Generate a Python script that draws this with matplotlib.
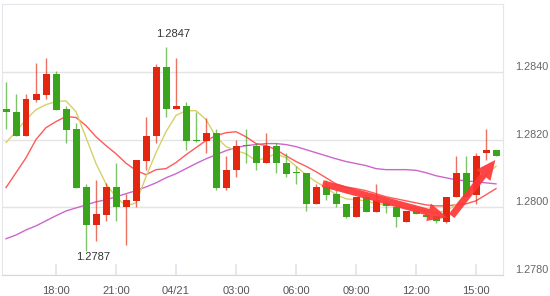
import matplotlib
matplotlib.use("Agg")
import matplotlib.pyplot as plt
import numpy as np
import pandas as pd
from matplotlib.patches import FancyArrowPatch

# 30-minute candles, 04/20 15:30 -> 04/21 16:00
times = pd.date_range("2018-04-20 15:30", periods=50, freq="30min")

opens = [1.28291, 1.28282, 1.28209, 1.28318, 1.28330, 1.28392, 1.28291, 1.28232, 1.28060, 1.27948,
         1.27978, 1.28060, 1.28001, 1.28019, 1.28137, 1.28209, 1.28413, 1.28291, 1.28300, 1.28197,
         1.28197, 1.28220, 1.28058, 1.28109, 1.28182, 1.28182, 1.28130, 1.28182, 1.28130, 1.28102,
         1.28102, 1.28010, 1.28060, 1.28040, 1.28010, 1.27972, 1.28031, 1.27986, 1.28013, 1.28001,
         1.27957, 1.27989, 1.27978, 1.27975, 1.27957, 1.28031, 1.28102, 1.28037, 1.28161, 1.28170]
closes = [1.28280, 1.28209, 1.28321, 1.28333, 1.28392, 1.28288, 1.28229, 1.28058, 1.27948, 1.27981,
          1.28060, 1.28001, 1.28022, 1.28140, 1.28211, 1.28413, 1.28291, 1.28300, 1.28197, 1.28195,
          1.28220, 1.28058, 1.28111, 1.28182, 1.28180, 1.28130, 1.28182, 1.28130, 1.28099, 1.28100,
          1.28010, 1.28060, 1.28037, 1.28010, 1.27972, 1.28031, 1.27986, 1.28022, 1.28004, 1.27972,
          1.27989, 1.27981, 1.27972, 1.27960, 1.28031, 1.28102, 1.28031, 1.28152, 1.28169, 1.28151]
highs = [1.28371, 1.28333, 1.28333, 1.28425, 1.28442, 1.28401, 1.28300, 1.28250, 1.28069, 1.28081,
         1.28072, 1.28132, 1.28040, 1.28140, 1.28265, 1.28422, 1.28472, 1.28442, 1.28312, 1.28280,
         1.28262, 1.28232, 1.28152, 1.28200, 1.28232, 1.28191, 1.28220, 1.28191, 1.28161, 1.28121,
         1.28102, 1.28069, 1.28081, 1.28052, 1.28010, 1.28031, 1.28040, 1.28069, 1.28022, 1.28001,
         1.27989, 1.27989, 1.27984, 1.27975, 1.28031, 1.28152, 1.28152, 1.28161, 1.28232, 1.28170]
lows = [1.28232, 1.28209, 1.28209, 1.28312, 1.28321, 1.28288, 1.28191, 1.28058, 1.27871, 1.27901,
        1.27960, 1.27960, 1.27889, 1.28001, 1.28111, 1.28191, 1.28265, 1.28291, 1.28170, 1.28194,
        1.28161, 1.28052, 1.28052, 1.28090, 1.28130, 1.28111, 1.28130, 1.28102, 1.28090, 1.28069,
        1.27989, 1.28010, 1.28022, 1.28001, 1.27969, 1.27972, 1.27986, 1.27986, 1.27984, 1.27942,
        1.27957, 1.27981, 1.27972, 1.27954, 1.27954, 1.28031, 1.28031, 1.28010, 1.28140, 1.28151]

ma_fast = [1.28191, 1.28223, 1.28259, 1.28288, 1.28303, 1.28312, 1.28314, 1.28282, 1.28206, 1.28129,
           1.28069, 1.28031, 1.28004, 1.28013, 1.28090, 1.28161, 1.28223, 1.28271, 1.28285, 1.28285,
           1.28259, 1.28208, 1.28179, 1.28167, 1.28158, 1.28137, 1.28146, 1.28158, 1.28146, 1.28121,
           1.28096, 1.28075, 1.28058, 1.28037, 1.28025, 1.28022, 1.28019, 1.28010, 1.28007, 1.28004,
           1.27998, 1.27995, 1.27989, 1.27984, 1.27989, 1.28007, 1.28040, 1.28069, 1.28096, 1.28121]
ma_mid = [1.28058, 1.28102, 1.28146, 1.28200, 1.28235, 1.28253, 1.28268, 1.28265, 1.28241, 1.28208,
          1.28182, 1.28158, 1.28130, 1.28109, 1.28096, 1.28111, 1.28114, 1.28132, 1.28155, 1.28176,
          1.28197, 1.28211, 1.28220, 1.28223, 1.28208, 1.28188, 1.28182, 1.28170, 1.28152, 1.28135,
          1.28121, 1.28105, 1.28087, 1.28069, 1.28060, 1.28055, 1.28049, 1.28040, 1.28031, 1.28025,
          1.28019, 1.28013, 1.28007, 1.28004, 1.28004, 1.28007, 1.28010, 1.28019, 1.28037, 1.28055]
ma_slow = [1.27907, 1.27918, 1.27933, 1.27945, 1.27960, 1.27975, 1.27989, 1.27998, 1.28007, 1.28016,
           1.28022, 1.28031, 1.28040, 1.28049, 1.28060, 1.28072, 1.28087, 1.28099, 1.28114, 1.28129,
           1.28143, 1.28155, 1.28167, 1.28176, 1.28182, 1.28185, 1.28188, 1.28188, 1.28185, 1.28179,
           1.28170, 1.28161, 1.28152, 1.28143, 1.28135, 1.28129, 1.28123, 1.28114, 1.28111, 1.28111,
           1.28111, 1.28109, 1.28102, 1.28093, 1.28087, 1.28081, 1.28078, 1.28075, 1.28072, 1.28069]

y_ticks = [1.2780, 1.2800, 1.2820, 1.2840]
# hand-drawn trend arrows (candle index, price)
arrow_pts = [(31.4, 1.28072), (44.4, 1.27968), (49.1, 1.28146)]

UP = "#e2260f"
DOWN = "#3aa41c"

plt.rcParams["font.family"] = ["Liberation Sans", "DejaVu Sans"]
fig = plt.figure(figsize=(5.5, 2.96), dpi=100)
ax = fig.add_axes([2 / 550, 21 / 296, 501 / 550, 271 / 296])

x = np.arange(len(times))
o = np.array(opens)
c = np.array(closes)
colors = [UP if cc >= oo else DOWN for oo, cc in zip(o, c)]

ax.plot(x, ma_slow, color="#cc66cc", lw=1.0, zorder=2)
ax.plot(x, ma_mid, color="#ff5a5a", lw=1.0, zorder=2)
ax.plot(x, ma_fast, color="#d6d06a", lw=1.0, zorder=2)

ax.vlines(x, lows, highs, colors=colors, lw=1.0, alpha=0.65, zorder=3)
bottoms = np.minimum(o, c)
heights = np.maximum(np.abs(c - o), 0.000035)
ax.bar(x, heights, bottom=bottoms, width=0.7, color=colors, lw=0, zorder=4)

# high / low labels
hi = int(np.argmax(highs))
lo = int(np.argmin(lows))
ax.annotate(f"{highs[hi]:.4f}", (x[hi], highs[hi]), xytext=(5, 6), textcoords="offset points",
            ha="center", va="bottom", fontsize=8, color="#333333")
ax.annotate(f"{lows[lo]:.4f}", (x[lo], lows[lo]), xytext=(5, -1), textcoords="offset points",
            ha="center", va="top", fontsize=8, color="#333333")

for a, b in zip(arrow_pts[:-1], arrow_pts[1:]):
    ax.add_patch(FancyArrowPatch(a, b, arrowstyle="simple,head_length=1.4,head_width=1.3,tail_width=0.5",
                                 mutation_scale=10, color="#ff3535", alpha=0.92, lw=0, zorder=6))

ax.set_xlim(-0.4, 49.7)
ax.set_ylim(1.2780, 1.2860)

tick_idx = [i for i, t in enumerate(times) if t.minute == 0 and t.hour % 3 == 0]
tick_lbl = [times[i].strftime("%m/%d") if times[i].hour == 0 else times[i].strftime("%H:%M") for i in tick_idx]
ax.set_xticks(tick_idx)
ax.set_xticklabels(tick_lbl)
ax.tick_params(axis="x", direction="in", length=8, width=1.2, color="#dfe5ef", labelsize=8,
               labelcolor="#555555", pad=8)

ax.yaxis.tick_right()
ax.set_yticks(y_ticks)
ax.set_yticklabels([f"{v:.4f}" for v in y_ticks], va="bottom")
ax.tick_params(axis="y", length=0, labelsize=7.8, labelcolor="#666666", pad=9)
ax.grid(axis="y", color="#e4e4e4", lw=1.0, zorder=0)
ax.set_axisbelow(True)

for s in ["top", "right", "left"]:
    ax.spines[s].set_color("#e4e6ea")
ax.spines["bottom"].set_color("#d3d8e0")

fig.savefig("out.png", dpi=100)
